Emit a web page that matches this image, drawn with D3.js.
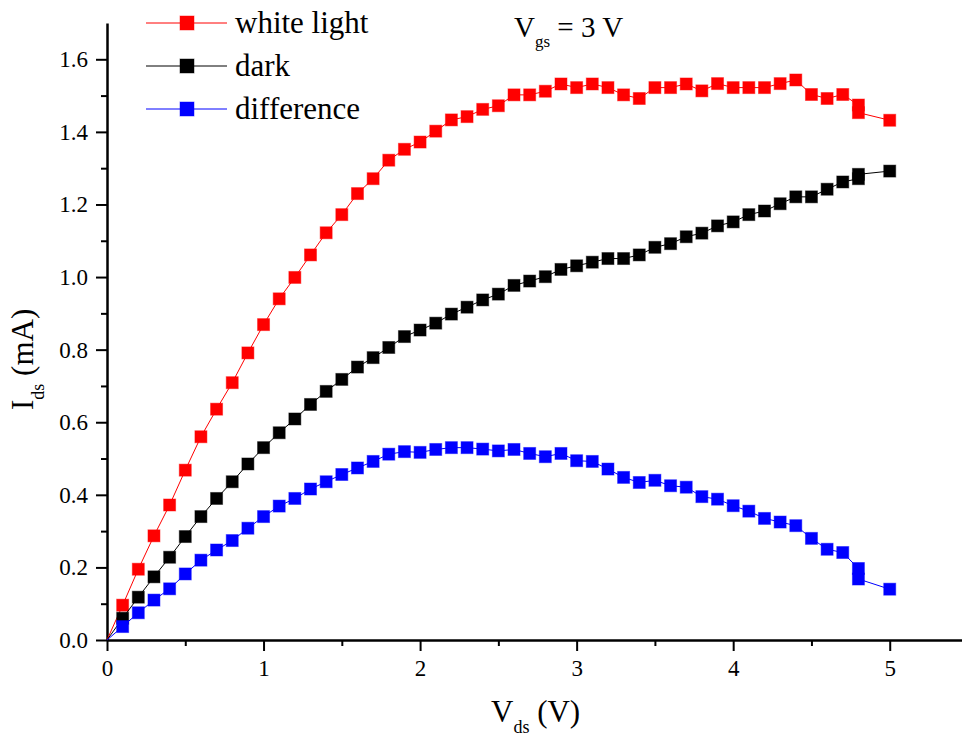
<!DOCTYPE html>
<html>
<head>
<meta charset="utf-8">
<script src="https://cdn.jsdelivr.net/npm/d3@7"></script>
<style>
  body { margin: 0; background: #fff; }
  svg { display: block; font-family: "Liberation Serif", "Times New Roman", "DejaVu Serif", serif; }
</style>
</head>
<body>
<svg width="962" height="738"></svg>
<script>
// data (Vds in V, Ids in mA); 4.8 V has two readings
const vds = [0,
  0.1, 0.2, 0.3, 0.4, 0.5, 0.6, 0.7, 0.8, 0.9,
  1.0, 1.1, 1.2, 1.3, 1.4, 1.5, 1.6, 1.7, 1.8, 1.9,
  2.0, 2.1, 2.2, 2.3, 2.4, 2.5, 2.6, 2.7, 2.8, 2.9,
  3.0, 3.1, 3.2, 3.3, 3.4, 3.5, 3.6, 3.7, 3.8, 3.9,
  4.0, 4.1, 4.2, 4.3, 4.4, 4.5, 4.6, 4.7,
  4.8, 4.8,
  5.0];

const whiteLight = [0,
  0.096, 0.195, 0.287, 0.372, 0.468, 0.560, 0.636, 0.709, 0.791,
  0.869, 0.940, 0.999, 1.061, 1.122, 1.172, 1.230, 1.271, 1.322, 1.352,
  1.372, 1.402, 1.433, 1.442, 1.462, 1.472, 1.502, 1.502, 1.512, 1.532,
  1.522, 1.532, 1.522, 1.502, 1.492, 1.522, 1.522, 1.532, 1.513, 1.533,
  1.522, 1.522, 1.522, 1.533, 1.543, 1.503, 1.492, 1.503,
  1.474, 1.453,
  1.432];

const dark = [0,
  0.060, 0.118, 0.174, 0.228, 0.285, 0.340, 0.390, 0.436, 0.485,
  0.530, 0.571, 0.609, 0.649, 0.685, 0.718, 0.752, 0.778, 0.806, 0.836,
  0.854, 0.873, 0.898, 0.917, 0.937, 0.953, 0.977, 0.989, 1.001, 1.021,
  1.031, 1.041, 1.051, 1.051, 1.061, 1.082, 1.092, 1.111, 1.121, 1.141,
  1.152, 1.172, 1.182, 1.202, 1.221, 1.221, 1.242, 1.262,
  1.271, 1.283,
  1.292];

const difference = [0,
  0.037, 0.075, 0.110, 0.141, 0.182, 0.220, 0.248, 0.274, 0.308,
  0.340, 0.369, 0.390, 0.416, 0.436, 0.456, 0.474, 0.492, 0.512, 0.519,
  0.517, 0.525, 0.530, 0.530, 0.526, 0.521, 0.525, 0.514, 0.505, 0.514,
  0.494, 0.492, 0.471, 0.448, 0.434, 0.440, 0.425, 0.421, 0.395, 0.388,
  0.370, 0.355, 0.335, 0.325, 0.315, 0.280, 0.250, 0.241,
  0.197, 0.168,
  0.140];

const seriesNames = ["white light", "dark", "difference"];
const seriesColors = ["#ff0000", "#000000", "#0000ff"];
const seriesValues = [whiteLight, dark, difference];

const xMajorTicks = [0, 1, 2, 3, 4, 5];
const xMinorTicks = [0.5, 1.5, 2.5, 3.5, 4.5];
const yMajorTicks = [0, 0.2, 0.4, 0.6, 0.8, 1.0, 1.2, 1.4, 1.6];
const yMinorTicks = [0.1, 0.3, 0.5, 0.7, 0.9, 1.1, 1.3, 1.5];

const svg = d3.select("svg");
const serif = '"Liberation Serif", "Times New Roman", "DejaVu Serif", serif';

// plot area
const plotLeft = 107, plotBottom = 640, plotRight = 968, plotTop = 23;

const x = d3.scaleLinear().domain([0, 5.5]).range([plotLeft, plotRight]);
const y = d3.scaleLinear().domain([0, 1.7]).range([plotBottom, plotTop]);

const fontSize = 23;

// x axis
const gx = svg.append("g").attr("transform", `translate(0,${plotBottom})`);
gx.call(d3.axisBottom(x).tickValues(xMajorTicks).tickSize(11).tickSizeOuter(0)
    .tickPadding(9).tickFormat(d3.format("d")));
gx.append("g").call(d3.axisBottom(x).tickValues(xMinorTicks).tickSize(6).tickSizeOuter(0).tickFormat(""))
  .call(g => g.select(".domain").remove());

// y axis
const gy = svg.append("g").attr("transform", `translate(${plotLeft},0)`);
gy.call(d3.axisLeft(y).tickValues(yMajorTicks).tickSize(11).tickSizeOuter(0)
    .tickPadding(8).tickFormat(d3.format(".1f")));
gy.append("g").call(d3.axisLeft(y).tickValues(yMinorTicks).tickSize(6).tickSizeOuter(0).tickFormat(""))
  .call(g => g.select(".domain").remove());

gx.attr("font-family", serif);
gy.attr("font-family", serif);
svg.selectAll(".domain").attr("stroke", "#000").attr("stroke-width", 2.5);
svg.selectAll(".tick line").attr("stroke", "#000").attr("stroke-width", 2);
svg.selectAll(".tick text")
  .attr("font-size", fontSize)
  .attr("fill", "#000");

// series
const line = d3.line()
  .x(d => x(d[0]))
  .y(d => y(d[1]));

const markerSize = 12;

seriesValues.forEach((vals, i) => {
  const pts = vds.map((v, j) => [v, vals[j]]);
  const color = seriesColors[i];
  const g = svg.append("g");

  g.append("path")
    .datum(pts)
    .attr("fill", "none")
    .attr("stroke", color)
    .attr("stroke-width", 1)
    .attr("d", line);

  g.selectAll("rect")
    .data(pts.filter(d => d[0] > 0))
    .enter().append("rect")
    .attr("x", d => x(d[0]) - markerSize / 2)
    .attr("y", d => y(d[1]) - markerSize / 2)
    .attr("width", markerSize)
    .attr("height", markerSize)
    .attr("fill", color)
    .attr("stroke", color)
    .attr("stroke-opacity", 0.45)
    .attr("stroke-width", 1);
});

// legend
const legendRowY = [23, 66, 109];
const legend = svg.append("g");
seriesNames.forEach((name, i) => {
  const ly = legendRowY[i];
  legend.append("line")
    .attr("x1", 146).attr("x2", 227)
    .attr("y1", ly).attr("y2", ly)
    .attr("stroke", seriesColors[i])
    .attr("stroke-width", 1);
  legend.append("rect")
    .attr("x", 187 - 7).attr("y", ly - 7)
    .attr("width", 14).attr("height", 14)
    .attr("fill", seriesColors[i])
    .attr("stroke", seriesColors[i])
    .attr("stroke-opacity", 0.45);
  legend.append("text")
    .attr("x", 235)
    .attr("y", ly + 10)
    .attr("font-size", 31)
    .text(name);
});

// annotation: Vgs = 3 V
const note = svg.append("text")
  .attr("x", 514)
  .attr("y", 37)
  .attr("font-size", 29);
note.append("tspan").text("V");
note.append("tspan").attr("font-size", 17).attr("dy", 10).text("gs");
note.append("tspan").attr("dy", -10).text(" = 3 V");

// x axis title
const xt = svg.append("text")
  .attr("x", 491)
  .attr("y", 722)
  .attr("font-size", 31);
xt.append("tspan").text("V");
xt.append("tspan").attr("font-size", 18).attr("dy", 11).text("ds");
xt.append("tspan").attr("dy", -11).text(" (V)");

// y axis title
const yt = svg.append("text")
  .attr("transform", "translate(33,410) rotate(-90)")
  .attr("font-size", 31);
yt.append("tspan").text("I");
yt.append("tspan").attr("font-size", 18).attr("dy", 11).text("ds");
yt.append("tspan").attr("dy", -11).text(" (mA)");
</script>
</body>
</html>
